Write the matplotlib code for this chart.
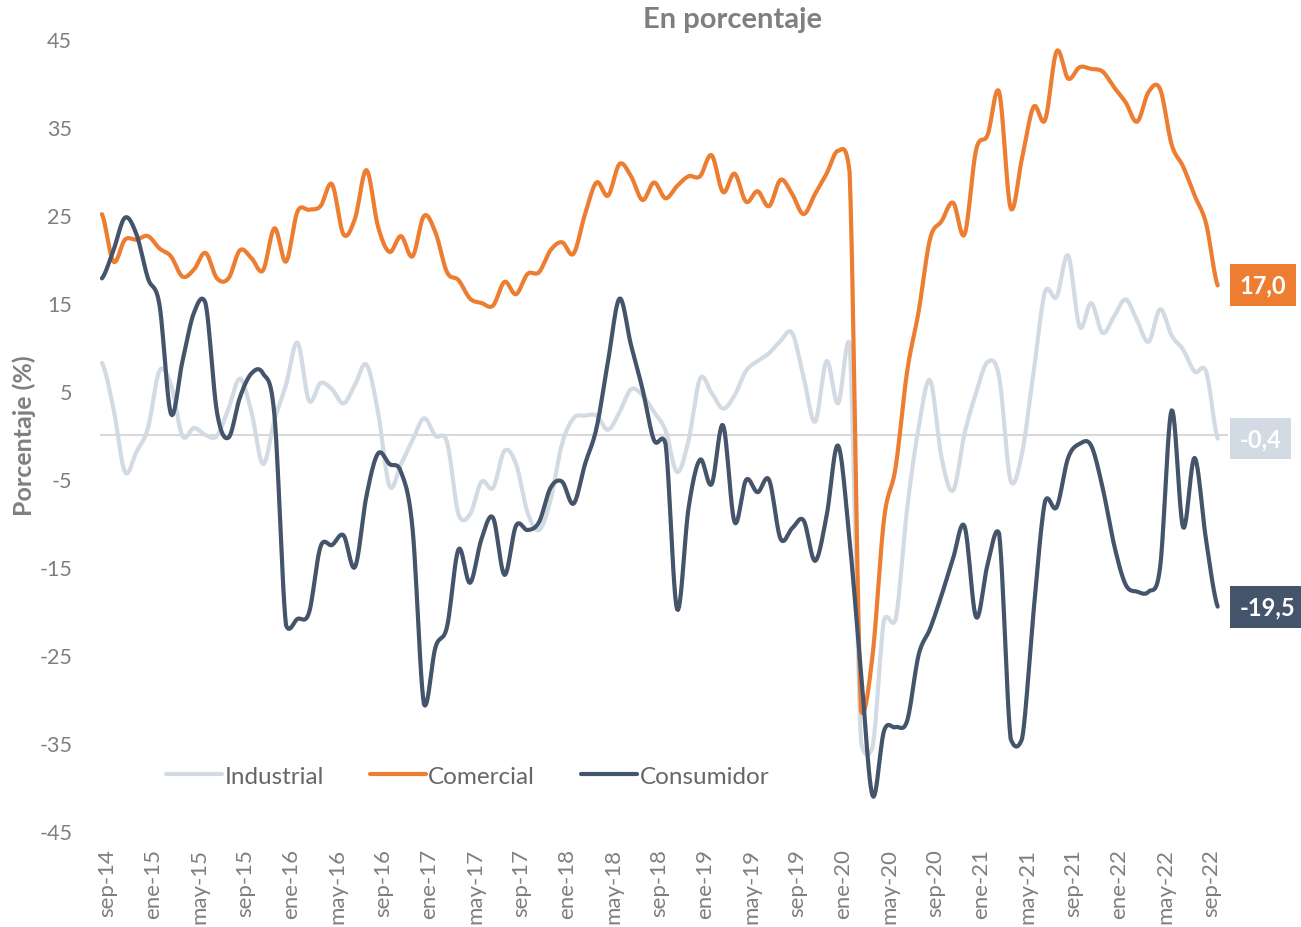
import numpy as np
import matplotlib
matplotlib.use("Agg")
import matplotlib.pyplot as plt
from matplotlib.transforms import ScaledTranslation

# monthly data, sep-14 .. oct-22
tick_labels = ["sep-14", "ene-15", "may-15", "sep-15", "ene-16", "may-16", "sep-16",
               "ene-17", "may-17", "sep-17", "ene-18", "may-18", "sep-18", "ene-19",
               "may-19", "sep-19", "ene-20", "may-20", "sep-20", "ene-21", "may-21",
               "sep-21", "ene-22", "may-22", "sep-22"]

industrial = [8.2, 3.0, -4.2, -1.9, 0.8, 7.3, 5.7, -0.1, 0.8, 0.0, -0.1, 3.0,
              6.4, 2.6, -3.3, 1.7, 5.7, 10.5, 3.9, 5.9, 5.2, 3.6, 5.7, 8.0,
              2.6, -5.8, -3.3, -0.6, 1.9, -0.1, -0.8, -9.0, -9.0, -5.3, -6.0, -1.8,
              -3.3, -8.8, -10.8, -7.4, -1.0, 1.9, 2.2, 2.2, 0.6, 2.6, 5.2, 4.5,
              2.6, 0.5, -4.2, -0.6, 6.4, 4.8, 3.0, 4.5, 7.3, 8.4, 9.3, 10.7,
              11.6, 6.6, 1.5, 8.4, 3.6, 10.5, -35.0, -35.5, -21.0, -21.0, -8.4, 0.8,
              6.2, -2.6, -6.3, 0.2, 4.8, 8.3, 6.6, -5.2, -2.0, 7.2, 16.3, 15.7,
              20.4, 12.3, 15.0, 11.6, 13.5, 15.4, 13.0, 10.6, 14.3, 11.3, 9.7, 7.2,
              7.2, -0.4]

comercial = [25.1, 19.7, 22.2, 22.2, 22.6, 21.2, 20.3, 18.0, 18.8, 20.7, 17.8, 17.8,
             21.0, 20.1, 18.7, 23.5, 19.7, 25.4, 25.6, 26.0, 28.5, 22.8, 24.6, 30.1,
             23.7, 20.8, 22.6, 20.3, 24.9, 23.0, 18.5, 17.6, 15.5, 15.0, 14.7, 17.4,
             16.0, 18.3, 18.5, 21.0, 21.9, 20.6, 25.1, 28.7, 27.2, 30.8, 29.4, 26.7,
             28.7, 26.9, 28.3, 29.4, 29.4, 31.8, 27.6, 29.7, 26.5, 27.7, 26.0, 29.0,
             27.4, 25.1, 27.4, 29.7, 32.3, 29.9, -31.4, -25.0, -9.5, -3.7, 7.2, 14.0,
             22.3, 24.3, 26.4, 22.8, 32.4, 34.1, 39.0, 25.8, 31.5, 37.3, 35.8, 43.6,
             40.5, 41.8, 41.6, 41.3, 39.5, 37.8, 35.6, 39.0, 39.3, 33.0, 30.5, 27.2,
             24.0, 17.0]

consumidor = [17.8, 21.0, 24.7, 22.8, 17.8, 14.8, 2.4, 8.4, 13.9, 15.0, 2.6, -0.3,
              4.3, 7.0, 7.0, 2.2, -21.6, -20.9, -20.2, -12.7, -12.5, -11.4, -15.0, -6.9,
              -2.1, -3.3, -4.2, -10.6, -30.6, -24.1, -21.8, -13.0, -16.8, -11.8, -9.4, -15.9,
              -10.3, -10.8, -9.9, -6.0, -5.3, -7.8, -3.3, 0.8, 8.4, 15.5, 10.2, 5.2,
              -0.6, -1.0, -19.8, -8.3, -2.8, -5.6, 1.1, -9.9, -5.1, -6.5, -5.1, -11.8,
              -10.6, -9.7, -14.3, -9.2, -1.2, -12.0, -27.0, -41.0, -33.6, -33.2, -32.5, -25.0,
              -22.0, -18.2, -14.0, -10.4, -20.7, -14.7, -11.2, -34.5, -34.5, -20.0, -7.5, -8.2,
              -2.6, -1.0, -1.2, -6.0, -12.5, -17.0, -17.8, -17.8, -15.0, 2.8, -10.5, -2.6,
              -12.0, -19.5]

end_labels = ["17,0", "-0,4", "-19,5"]

C_IND = "#d2dae3"
C_COM = "#ed7d31"
C_CON = "#44546a"
GRAY = "#7f7f7f"


def smooth(y, n=12):
    # excel-like smoothed line (bezier through the points),
    # control points kept close to the segment so big jumps don't overshoot
    y = np.asarray(y, dtype=float)
    x = np.arange(len(y), dtype=float)
    xs, ys = [], []
    t = np.linspace(0, 1, n, endpoint=False)
    for i in range(len(y) - 1):
        p0 = y[max(i - 1, 0)]
        p1, p2 = y[i], y[i + 1]
        p3 = y[min(i + 2, len(y) - 1)]
        lo, hi = min(p1, p2) - 1.2, max(p1, p2) + 1.2
        c1 = np.clip(p1 + (p2 - p0) / 6, lo, hi)
        c2 = np.clip(p2 - (p3 - p1) / 6, lo, hi)
        b = ((1 - t) ** 3 * p1 + 3 * (1 - t) ** 2 * t * c1
             + 3 * (1 - t) * t ** 2 * c2 + t ** 3 * p2)
        xs.append(x[i] + t)
        ys.append(b)
    xs.append([x[-1]])
    ys.append([y[-1]])
    return np.concatenate(xs), np.concatenate(ys)


plt.rcParams['font.family'] = ['Lato', 'DejaVu Sans']

fig = plt.figure(figsize=(13.01, 9.28), dpi=100)
ax = fig.add_axes([100 / 1301, 1 - 832 / 928, 1128 / 1301, 792 / 928])

ax.axhline(0, color="#d9d9d9", lw=1.5, zorder=1)

for vals, col, name in [(industrial, C_IND, "Industrial"),
                        (comercial, C_COM, "Comercial"),
                        (consumidor, C_CON, "Consumidor")]:
    sx, sy = smooth(vals)
    ax.plot(sx, sy, color=col, lw=3, label=name, solid_capstyle="round", zorder=2)

ax.set_xlim(-0.17, 97.9)
ax.set_ylim(-45, 45)
ax.set_yticks(np.arange(-45, 46, 10))
ax.set_yticklabels([str(v) for v in range(-45, 46, 10)])
ax.set_xticks(np.arange(0, 97, 4))
ax.set_xticklabels(tick_labels, rotation=90, va="top", ha="center")
ax.tick_params(axis="y", length=0, pad=20, labelsize=15.5, labelcolor=GRAY)
ax.tick_params(axis="x", length=0, pad=12, labelsize=16, labelcolor=GRAY)
# rotated labels sit a little right of their month in the original
shift = ScaledTranslation(5 / 100, 0, fig.dpi_scale_trans)
for lab in ax.get_xticklabels():
    lab.set_transform(lab.get_transform() + shift)
for s in ax.spines.values():
    s.set_visible(False)

# value boxes at the end of each series
for vals, col, txt in [(comercial, C_COM, end_labels[0]),
                       (industrial, C_IND, end_labels[1]),
                       (consumidor, C_CON, end_labels[2])]:
    ax.text(98.9, vals[-1], txt, ha="left", va="center", fontsize=17,
            fontweight="bold", color="white", clip_on=False,
            bbox=dict(boxstyle="square,pad=0.4", fc=col, ec="none"))

leg = ax.legend(loc="center", bbox_to_anchor=(0.326, 0.069), ncol=3, frameon=False,
                fontsize=17.5, handlelength=2.3, handletextpad=0.1, columnspacing=1.9)
for t in leg.get_texts():
    t.set_color("#666666")

fig.text(732 / 1301, 1 - 20 / 928, "En porcentaje", ha="center", va="center",
         fontsize=21, fontweight="bold", color=GRAY)
fig.text(24 / 1301, 1 - 436 / 928, "Porcentaje (%)", ha="center", va="center",
         rotation=90, fontsize=18, fontweight="bold", color=GRAY)

fig.savefig("out.png", dpi=100)
